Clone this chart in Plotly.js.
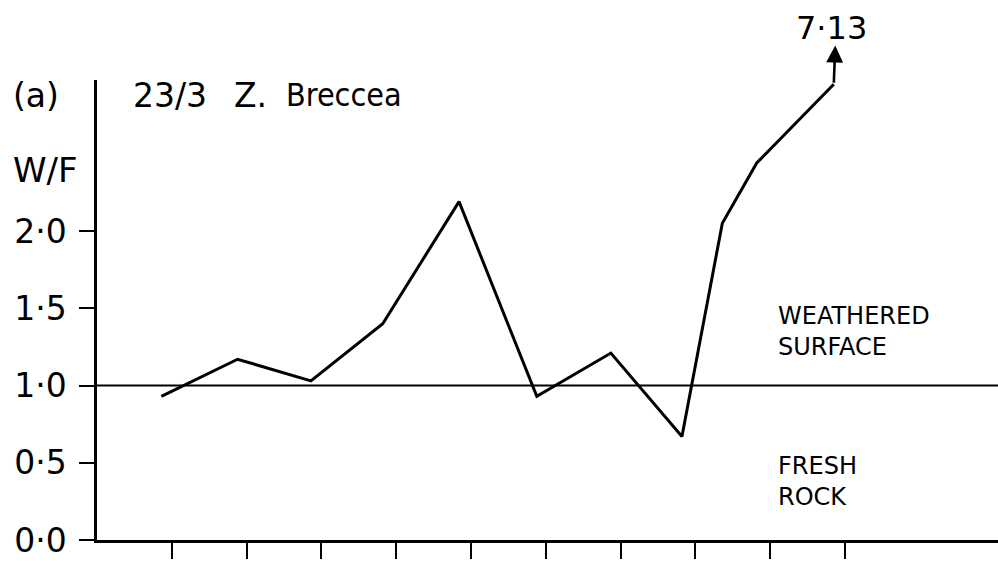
<!DOCTYPE html>
<html>
<head>
<meta charset="utf-8">
<script src="https://cdn.plot.ly/plotly-3.0.1.min.js"></script>
<style>html,body{margin:0;padding:0;background:#fff;}#chart{width:998px;height:561px;}</style>
</head>
<body>
<div id="chart"></div>
<script>
// Sample positions along the traverse and W/F ratio values
const samplePos = [0.86, 1.88, 2.86, 3.82, 4.84, 5.88, 6.87, 7.82, 8.36, 8.82, 9.85];
const wfRatio  = [0.93, 1.17, 1.03, 1.40, 2.19, 0.93, 1.21, 0.67, 2.05, 2.44, 2.95];
const offScaleValue = 3.2;       // arrow tip drawn above the scale
const offScaleLabel = '7·13';
const xTickVals = [1, 2, 3, 4, 5, 6, 7, 8, 9, 10];
const yTickVals = [0, 0.5, 1.0, 1.5, 2.0];
const yTickText = ['0·0', '0·5', '1·0', '1·5', '2·0'];
const refLevel = 1.0;

const W = 998, H = 561;
const M = {l: 97, r: 0, t: 80, b: 21};
const pw = W - M.l - M.r, ph = H - M.t - M.b;
const px = x => (x - M.l) / pw;
const py = y => (H - M.b - y) / ph;
const FONT = 'DejaVu Sans, sans-serif';
const NARROW = 'DejaVu Sans Condensed, DejaVu Sans, sans-serif';

const trace = {
  x: samplePos, y: wfRatio, type: 'scatter', mode: 'lines',
  line: {color: '#000', width: 3}, hoverinfo: 'skip', cliponaxis: false
};

function label(text, x, y, size, anchor, fam) {
  return {xref: 'paper', yref: 'paper', x: px(x), y: py(y), xanchor: anchor || 'left', yanchor: 'middle',
          align: 'left', text: text, showarrow: false, font: {family: fam || FONT, size: size, color: '#000'}};
}

const layout = {
  width: W, height: H, margin: M,
  paper_bgcolor: '#fff', plot_bgcolor: '#fff',
  showlegend: false,
  font: {family: FONT, color: '#000'},
  xaxis: {
    range: [0, pw / 74.8], showgrid: false, zeroline: false,
    showline: true, linecolor: '#000', linewidth: 2.6,
    ticks: 'outside', ticklen: 16, tickwidth: 2, tickcolor: '#000',
    tickvals: xTickVals, showticklabels: false, fixedrange: true
  },
  yaxis: {
    range: [0, ph / 154.5], showgrid: false, zeroline: false,
    showline: true, linecolor: '#000', linewidth: 2.6,
    ticks: 'outside', ticklen: 15, tickwidth: 2, tickcolor: '#000',
    tickvals: yTickVals, ticktext: yTickText,
    tickfont: {family: FONT, size: 33, color: '#000'},
    ticklabelstandoff: 6, fixedrange: true
  },
  shapes: [{
    type: 'line', xref: 'paper', yref: 'y', x0: 0, x1: 1, y0: refLevel, y1: refLevel,
    line: {color: '#000', width: 1.8}
  }],
  annotations: [
    {xref: 'x', yref: 'y', axref: 'x', ayref: 'y',
     x: samplePos[samplePos.length - 1] + 0.02, y: offScaleValue,
     ax: samplePos[samplePos.length - 1], ay: wfRatio[wfRatio.length - 1],
     text: '', showarrow: true, arrowhead: 2, arrowsize: 1.3, arrowwidth: 2.6, arrowcolor: '#000'},
    label(offScaleLabel, 831, 28, 32, 'center'),
    label('(a)', 11, 95, 33),
    label('23/3', 131, 95, 33),
    label('Z.', 232, 95, 33),
    label('Breccea', 284, 95, 32, 'left', NARROW),
    label('W/F', 11, 170, 34),
    label('WEATHERED<br>SURFACE', 776, 331, 24),
    label('FRESH<br>ROCK', 776, 481, 24)
  ]
};

Plotly.newPlot('chart', [trace], layout, {staticPlot: true, displayModeBar: false});
</script>
</body>
</html>
